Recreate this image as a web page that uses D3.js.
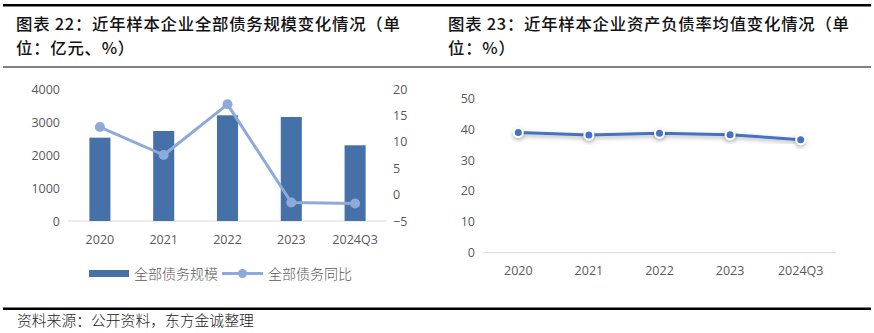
<!DOCTYPE html>
<html><head><meta charset="utf-8">
<script src="https://cdn.jsdelivr.net/npm/d3@7"></script>
<style>
html,body{margin:0;padding:0;background:#fff;}
svg{display:block;}
</style></head>
<body>
<svg id="c" width="874" height="333"></svg>
<script>
const categories = ["2020","2021","2022","2023","2024Q3"];
const debtScale = [2525, 2727, 3203, 3152, 2294];
const debtYoY = [12.8, 7.5, 17.1, -1.5, -1.7];
const leftTicks = [0,1000,2000,3000,4000];
const rightTicks = [-5,0,5,10,15,20];
const debtRatio = [38.9, 38.1, 38.7, 38.2, 36.6];
const ratioTicks = [0,10,20,30,40,50];
const title1 = ["图表 22：近年样本企业全部债务规模变化情况（单", "位：亿元、%）"];
const title2 = ["图表 23：近年样本企业资产负债率均值变化情况（单", "位：%）"];
const legendLabels = ["全部债务规模", "全部债务同比"];
const sourceText = "资料来源：公开资料，东方金诚整理";

const svg = d3.select("#c");
const cjk = "'Noto Sans CJK SC', sans-serif";
const num = "'Open Sans', 'Liberation Sans', sans-serif";
const tickColor = "#595959";

// header rules
svg.append("rect").attr("x",3).attr("y",4).attr("width",868).attr("height",2.5).attr("fill","#000");
svg.append("rect").attr("x",3).attr("y",66).attr("width",868).attr("height",2).attr("fill","#808080");
svg.append("rect").attr("x",3).attr("y",307.5).attr("width",868).attr("height",2.5).attr("fill","#000");

function title(lines, x){
  lines.forEach((s,i)=>{
    svg.append("text").attr("x",x).attr("y",29.5+i*24).text(s)
      .attr("font-family",cjk).attr("font-size",16.4).attr("letter-spacing",0.75)
      .attr("font-weight",500).attr("fill","#111");
  });
}
title(title1, 16);
title(title2, 448);

svg.append("text").attr("x",17).attr("y",326).text(sourceText)
  .attr("font-family",cjk).attr("font-size",14.8).attr("font-weight",300).attr("fill","#222");

// ---------- Left chart ----------
const x1 = d3.scaleBand().domain(categories).range([68,387]).paddingInner(0.67).paddingOuter(0.335);
const yL = d3.scaleLinear().domain([0,4000]).range([221,89]);
const yR = d3.scaleLinear().domain([-5,20]).range([221,89]);

const g1 = svg.append("g");
g1.append("line").attr("x1",68).attr("x2",387).attr("y1",yL(0)).attr("y2",yL(0))
  .attr("stroke","#d9d9d9").attr("stroke-width",1);

const axL = g1.append("g").attr("transform","translate(60,0)")
  .call(d3.axisLeft(yL).tickValues(leftTicks).tickSize(0).tickPadding(0).tickFormat(d3.format("d")));
const axR = g1.append("g").attr("transform","translate(393,0)")
  .call(d3.axisRight(yR).tickValues(rightTicks).tickSize(0).tickPadding(0).tickFormat(d3.format("d")));
const axX1 = g1.append("g").attr("transform",`translate(0,${yL(0)})`)
  .call(d3.axisBottom(x1).tickSize(0).tickPadding(14));
[axL,axR,axX1].forEach(a=>{
  a.select(".domain").remove();
  a.selectAll("text").attr("font-family",num).attr("font-size",12.5).attr("fill",tickColor);
});

g1.selectAll("rect.bar").data(categories).join("rect").attr("class","bar")
  .attr("x",d=>x1(d)).attr("width",x1.bandwidth())
  .attr("y",(d,i)=>yL(debtScale[i])).attr("height",(d,i)=>yL(0)-yL(debtScale[i]))
  .attr("fill","#4671a8");

const lineColor = "#8eaad8";
const lineL = d3.line().x((d,i)=>x1(categories[i])+x1.bandwidth()/2).y(d=>yR(d));
g1.append("path").attr("d",lineL(debtYoY)).attr("fill","none")
  .attr("stroke",lineColor).attr("stroke-width",3).attr("stroke-linejoin","round");
g1.selectAll("circle.pt").data(debtYoY).join("circle").attr("class","pt")
  .attr("cx",(d,i)=>x1(categories[i])+x1.bandwidth()/2).attr("cy",d=>yR(d))
  .attr("r",5).attr("fill",lineColor);

// legend
const lg = svg.append("g");
lg.append("rect").attr("x",89).attr("y",270).attr("width",40).attr("height",7).attr("fill","#4671a8");
lg.append("text").attr("x",134).attr("y",278.5).text(legendLabels[0])
  .attr("font-family",cjk).attr("font-size",14).attr("font-weight",300).attr("fill",tickColor);
lg.append("line").attr("x1",222).attr("x2",263).attr("y1",273.5).attr("y2",273.5)
  .attr("stroke",lineColor).attr("stroke-width",3);
lg.append("circle").attr("cx",242.5).attr("cy",273.5).attr("r",4.5).attr("fill",lineColor);
lg.append("text").attr("x",268).attr("y",278.5).text(legendLabels[1])
  .attr("font-family",cjk).attr("font-size",14).attr("font-weight",300).attr("fill",tickColor);

// ---------- Right chart ----------
const defs = svg.append("defs");
const f = defs.append("filter").attr("id","sh").attr("x","-50%").attr("y","-50%").attr("width","200%").attr("height","200%");
f.append("feDropShadow").attr("dx",0).attr("dy",2).attr("stdDeviation",2).attr("flood-color","#000").attr("flood-opacity",0.3);

const x2 = d3.scaleBand().domain(categories).range([483,836]).paddingInner(0.67).paddingOuter(0.335);
const y2 = d3.scaleLinear().domain([0,50]).range([252.7,98.3]);
const g2 = svg.append("g");
g2.append("line").attr("x1",483).attr("x2",836).attr("y1",y2(0)).attr("y2",y2(0))
  .attr("stroke","#d9d9d9").attr("stroke-width",1);
const ax2 = g2.append("g").attr("transform","translate(475,0)")
  .call(d3.axisLeft(y2).tickValues(ratioTicks).tickSize(0).tickPadding(0).tickFormat(d3.format("d")));
const ax2x = g2.append("g").attr("transform",`translate(0,${y2(0)})`)
  .call(d3.axisBottom(x2).tickSize(0).tickPadding(13));
[ax2,ax2x].forEach(a=>{
  a.select(".domain").remove();
  a.selectAll("text").attr("font-family",num).attr("font-size",12.5).attr("fill",tickColor);
});
const line2 = d3.line().x((d,i)=>x2(categories[i])+x2.bandwidth()/2).y(d=>y2(d));
g2.append("path").attr("d",line2(debtRatio)).attr("fill","none")
  .attr("stroke","#4472c4").attr("stroke-width",3).attr("stroke-linejoin","round").attr("filter","url(#sh)");
g2.selectAll("circle.pt2").data(debtRatio).join("circle").attr("class","pt2")
  .attr("cx",(d,i)=>x2(categories[i])+x2.bandwidth()/2).attr("cy",d=>y2(d))
  .attr("r",4.5).attr("fill","#4472c4").attr("stroke","#fff").attr("stroke-width",2).attr("filter","url(#sh)");
</script>
</body></html>
